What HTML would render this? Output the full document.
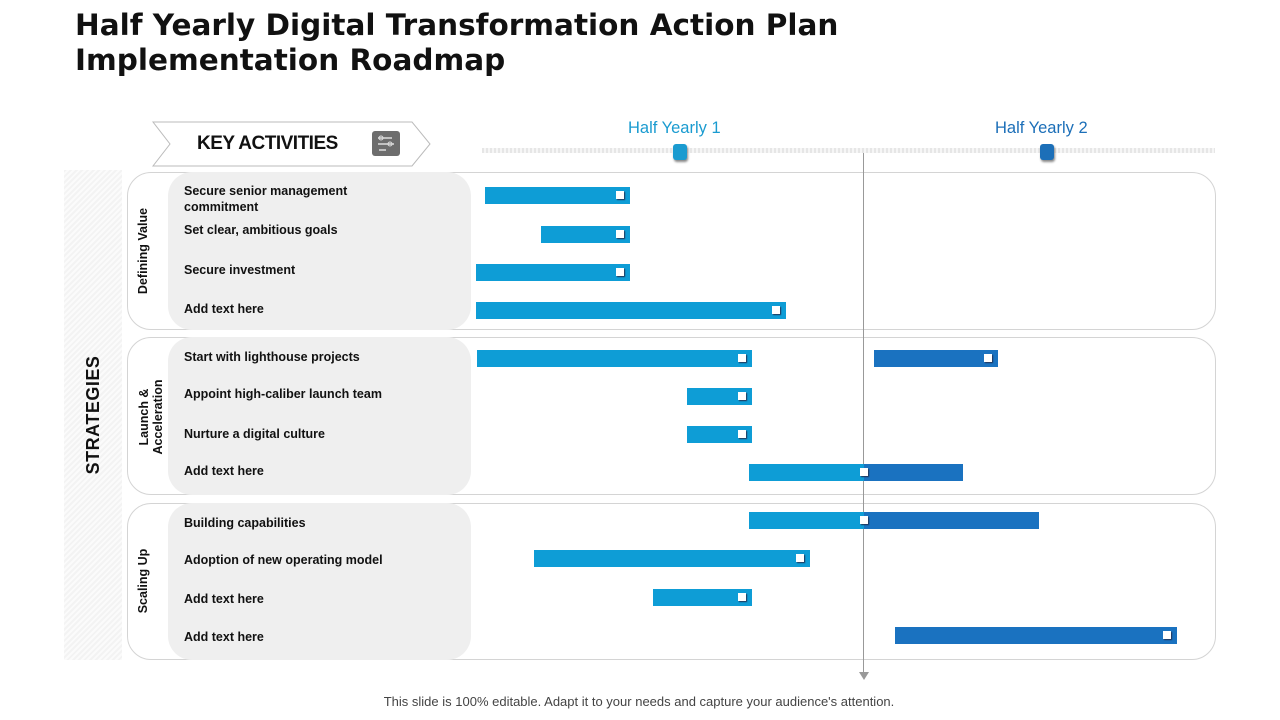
<!DOCTYPE html>
<html><head><meta charset="utf-8">
<style>
*{margin:0;padding:0;box-sizing:border-box}
body{width:1280px;height:720px;background:#fff;position:relative;overflow:hidden;font-family:"Liberation Sans",sans-serif;color:#111}
.abs{position:absolute}
h1{position:absolute;left:75px;top:8px;font-family:"DejaVu Sans",sans-serif;font-weight:bold;font-size:29.5px;line-height:35px;color:#111}
.sec{position:absolute;left:127px;width:1089px;border:1px solid #d4d4d4;border-radius:24px;background:#fff}
.pill{position:absolute;left:168px;width:303px;background:#efefef;border-radius:24px}
.vlab{position:absolute;font-size:12.5px;font-weight:bold;transform:rotate(-90deg);transform-origin:center;text-align:center;white-space:nowrap;line-height:14px}
</style></head><body>
<h1>Half Yearly Digital Transformation Action Plan<br>Implementation Roadmap</h1>

<div class="abs" style="left:64px;top:170px;width:58px;height:490px;background:repeating-linear-gradient(135deg,#f3f3f3 0 2px,#fbfbfb 2px 4px)"></div>
<div class="vlab" style="left:13px;top:405px;width:160px;height:20px;font-size:18px;line-height:20px;letter-spacing:0.5px">STRATEGIES</div>

<svg class="abs" style="left:150px;top:120px" width="285" height="50">
<polygon points="3,2 262,2 280,24 262,46 3,46 20,24" fill="#fff" stroke="#bbb" stroke-width="1"/>
<rect x="222" y="11" width="28" height="25" rx="3" fill="#6d6d6d"/>
<path d="M228 18h14M228 24h16M229 30h7" stroke="#ddd" stroke-width="1.5"/>
<circle cx="231" cy="18" r="2" fill="none" stroke="#ddd"/><circle cx="240" cy="24" r="2" fill="none" stroke="#ddd"/>
</svg>
<div class="abs" style="left:197px;top:133px;font-size:19px;font-weight:bold;letter-spacing:-0.5px">KEY ACTIVITIES</div>

<div class="abs" style="left:482px;top:148px;width:733px;height:5px;background:repeating-linear-gradient(90deg,#e6e6e6 0 2px,#f6f6f6 2px 4px)"></div>
<div class="abs" style="left:628px;top:119px;font-size:16.5px;color:#1a9bd0">Half Yearly 1</div>
<div class="abs" style="left:995px;top:119px;font-size:16.5px;color:#1c6fb8">Half Yearly 2</div>
<div class="abs" style="left:673px;top:144px;width:14px;height:16px;border-radius:3px;background:#1a9bd0;box-shadow:1px 2px 2px #888"></div>
<div class="abs" style="left:1040px;top:144px;width:14px;height:16px;border-radius:3px;background:#1c6fb8;box-shadow:1px 2px 2px #888"></div>

<div class="sec" style="top:172px;height:158px"></div>
<div class="sec" style="top:337px;height:158px"></div>
<div class="sec" style="top:503px;height:157px"></div>
<div class="pill" style="top:172px;height:158px"></div>
<div class="pill" style="top:337px;height:158px"></div>
<div class="pill" style="top:503px;height:157px"></div>

<div class="vlab" style="left:93px;top:244px;width:100px;height:14px">Defining Value</div>
<div class="vlab" style="left:101px;top:403px;width:100px;height:28px">Launch &amp;<br>Acceleration</div>
<div class="vlab" style="left:93px;top:574px;width:100px;height:14px">Scaling Up</div>

<div class="abs" style="left:863px;top:153px;width:1px;height:522px;background:#999"></div>
<svg class="abs" style="left:858px;top:670px" width="12" height="12"><polygon points="1,2 11,2 6,10" fill="#999"/></svg>

<div id="rows"></div>
<div class="abs" style="left:0;width:1278px;top:694px;text-align:center;font-size:13px;color:#444">This slide is 100% editable. Adapt it to your needs and capture your audience's attention.</div>

<script>
const rowNames=["Secure senior management commitment","Set clear, ambitious goals","Secure investment","Add text here","Start with lighthouse projects","Appoint high-caliber launch team","Nurture  a digital culture","Add text here","Building capabilities","Adoption of new operating model","Add text here","Add text here"];
const barStart=[1.2,8.8,0,0,0.1,28.5,28.5,36.9,36.9,7.8,23.9,56.6];
const barEnd=[20.8,20.8,20.8,41.9,37.3,37.3,37.3,65.8,76.1,45.1,37.3,94.7];
const barSplit=[null,null,null,null,null,null,null,52.4,52.4,null,null,null];
const barColor=["light","light","light","light","light","light","light","light","light","light","light","dark"];
const extraStart=[53.8];
const extraEnd=[70.5];
const extraRow=[4];

const rowY=[195,234,272,310,358,396,434,472,520,558,597,635];
const labelTop=[183,222,262,301,349,386,426,463,515,552,591,629];
const X0=476,X1=1216;
function xs(v){return X0+(X1-X0)*v/100;}
const COL={light:"#0e9dd6",dark:"#1a72c0"};
const root=document.getElementById('rows');
function mk(st){const d=document.createElement('div');d.className='abs';d.style.cssText=st;root.appendChild(d);return d;}
function bar(i,s,e,split,c,name){
  const y=rowY[i]-8;
  const b=mk(`left:${xs(s)}px;top:${y}px;width:${xs(e)-xs(s)}px;height:17px;background:${COL[c]}`);
  
  
  if(split!=null){
    const d=mk(`left:${xs(split)}px;top:${y}px;width:${xs(e)-xs(split)}px;height:17px;background:${COL.dark}`);
    
    
  }
  const mx=split!=null?xs(split):xs(e)-10;
  const m=mk(`left:${mx-4}px;top:${y+4}px;width:8px;height:8px;background:#fff;box-shadow:1px 1px 1px #235`);
  
  
}
rowNames.forEach((n,i)=>{
  const l=mk(`left:184px;top:${labelTop[i]}px;width:200px;font-size:12.5px;font-weight:bold;line-height:16px`);
  l.textContent=n;
  
  
  bar(i,barStart[i],barEnd[i],barSplit[i],barColor[i],'bar-row-'+(i+1));
});
extraStart.forEach((s,k)=>bar(extraRow[k],s,extraEnd[k],null,"dark",'bar-row-'+(extraRow[k]+1)+'-b'));
</script>
</body></html>
